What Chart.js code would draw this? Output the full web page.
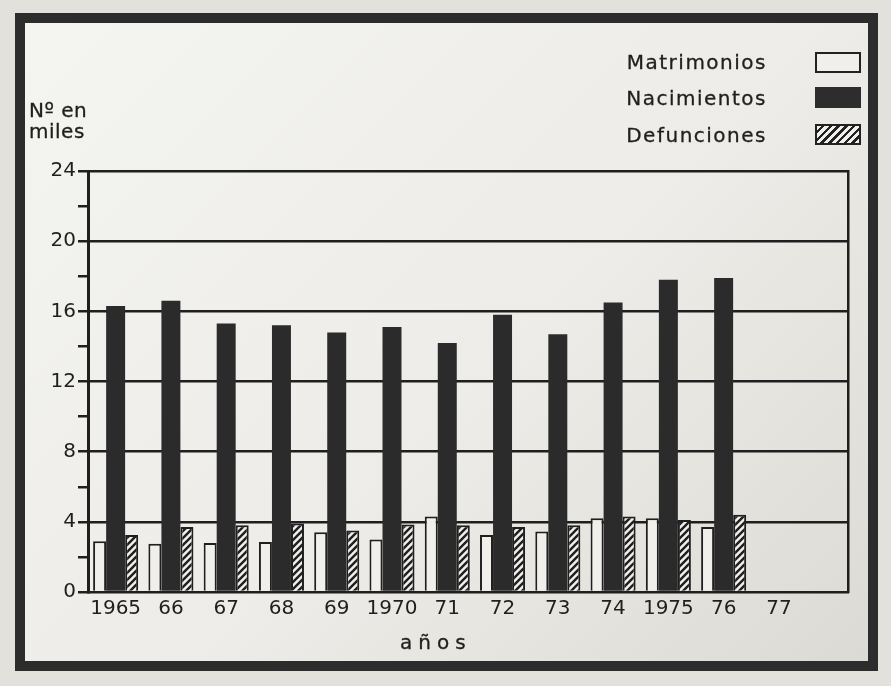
<!DOCTYPE html>
<html>
<head>
<meta charset="utf-8">
<script src="https://cdn.jsdelivr.net/npm/chart.js@4.4.0/dist/chart.umd.min.js"></script>
<style>
  html, body { margin: 0; padding: 0; }
  body {
    width: 891px; height: 686px; position: relative; overflow: hidden;
    background: #e2e1dc;
    font-family: 'DejaVu Sans', sans-serif; color: #1f1f1f;
  }
  .frame {
    position: absolute; left: 15px; top: 13px; width: 843px; height: 638px;
    border: 10px solid #2c2c2c;
    background: linear-gradient(135deg, #f4f4f1 0%, #edece8 55%, #dcdad4 100%);
  }
  canvas { position: absolute; left: 0; top: 0; }
  .txt { position: absolute; font-size: 20px; letter-spacing: 1.5px; white-space: nowrap; -webkit-text-stroke: 0.3px #1f1f1f; }
  .box { position: absolute; left: 815px; width: 46px; height: 21px; box-sizing: border-box; border: 2px solid #222; }
</style>
</head>
<body>
<div class="frame"></div>
<canvas id="chart" width="891" height="686"></canvas>

<div class="txt" style="left:29px; top:98px; letter-spacing:0.5px">Nº en</div>
<div class="txt" style="left:29px; top:119px; letter-spacing:0.5px">miles</div>

<div class="txt" style="right:124px; top:50px">Matrimonios</div>
<div class="txt" style="right:124px; top:86px">Nacimientos</div>
<div class="txt" style="right:124px; top:123px">Defunciones</div>
<div class="box" style="top:52px; background:#f0efeb"></div>
<div class="box" style="top:87px; background:#2d2d2d; border-color:#2d2d2d"></div>
<div class="box" style="top:124px; background: repeating-linear-gradient(135deg, #f0efeb 0 3px, #222 3px 5.5px)"></div>

<div class="txt" style="left:400px; top:630px; letter-spacing:6px">años</div>

<script>
const years = [1965, 1966, 1967, 1968, 1969, 1970, 1971, 1972, 1973, 1974, 1975, 1976, 1977]
const yearLabels = ['1965', '66', '67', '68', '69', '1970', '71', '72', '73', '74', '1975', '76', '77']

// miles de personas
const matrimonios = [2.9, 2.75, 2.8, 2.85, 3.4, 3.0, 4.3, 3.25, 3.45, 4.2, 4.2, 3.7, null]
const nacimientos = [16.3, 16.6, 15.3, 15.2, 14.8, 15.1, 14.2, 15.8, 14.7, 16.5, 17.8, 17.9, null]
const defunciones = [3.25, 3.7, 3.8, 3.9, 3.5, 3.85, 3.8, 3.7, 3.8, 4.3, 4.1, 4.4, null]

const yTicks = [0, 4, 8, 12, 16, 20, 24]

const ink = '#1f1f1f'
const paper = '#f0efeb'
const font = { family: "'DejaVu Sans', sans-serif", size: 20 }

// hatch for defunciones
const makeHatch = () => {
  const c = document.createElement('canvas')
  c.width = 7
  c.height = 7
  const g = c.getContext('2d')
  g.fillStyle = paper
  g.fillRect(0, 0, 7, 7)
  g.strokeStyle = ink
  g.lineWidth = 2.4
  g.beginPath()
  g.moveTo(-1, 8); g.lineTo(8, -1)
  g.moveTo(-4, 4); g.lineTo(4, -4)
  g.moveTo(3, 11); g.lineTo(11, 3)
  g.stroke()
  return g.createPattern(c, 'repeat')
}

const toPoints = (arr) => years.map((x, i) => ({ x: x, y: arr[i] }))

new Chart(document.getElementById('chart'), {
  type: 'bar',
  data: {
    datasets: [
      {
        label: 'Matrimonios',
        data: toPoints(matrimonios),
        backgroundColor: paper,
        borderColor: ink,
        borderWidth: 2,
        categoryPercentage: 0.87,
        barPercentage: 0.81
      },
      {
        label: 'Nacimientos',
        data: toPoints(nacimientos),
        backgroundColor: '#2b2b2b',
        borderWidth: 0,
        categoryPercentage: 1.03,
        barPercentage: 1
      },
      {
        label: 'Defunciones',
        data: toPoints(defunciones),
        backgroundColor: makeHatch(),
        borderColor: ink,
        borderWidth: 2,
        categoryPercentage: 0.87,
        barPercentage: 0.81
      }
    ]
  },
  options: {
    responsive: false,
    animation: false,
    layout: { padding: { left: 28, top: 171, right: 43, bottom: 24 } },
    plugins: {
      legend: { display: false },
      tooltip: { enabled: false }
    },
    scales: {
      x: {
        type: 'linear',
        min: 1964.5,
        max: 1978.25,
        offset: false,
        afterFit: (s) => { s.height = 70 },
        afterBuildTicks: (s) => { s.ticks = years.map((v) => ({ value: v })) },
        ticks: {
          autoSkip: false,
          maxRotation: 0,
          padding: 5,
          color: ink,
          font: font,
          callback: (v) => {
            const i = years.indexOf(v)
            return i >= 0 ? yearLabels[i] : ''
          }
        },
        grid: { display: false, drawTicks: false },
        border: { display: true, color: ink, width: 2.5 }
      },
      y: {
        min: 0,
        max: 24,
        afterFit: (s) => { s.width = 60 },
        ticks: {
          stepSize: 2,
          padding: 2,
          color: ink,
          font: font,
          callback: (v) => yTicks.includes(v) ? v : ''
        },
        grid: {
          color: (c) => (c.tick && c.tick.value % 4 === 0 && c.tick.value > 0) ? ink : 'rgba(0,0,0,0)',
          tickColor: ink,
          lineWidth: 2.5,
          tickLength: 10
        },
        border: { color: ink, width: 3 }
      },
      y2: {
        position: 'right',
        min: 0,
        max: 24,
        afterFit: (s) => { s.width = 0 },
        ticks: { display: false },
        grid: { display: false, drawTicks: false },
        border: { display: true, color: ink, width: 2.5 }
      }
    }
  }
})
</script>
</body>
</html>
